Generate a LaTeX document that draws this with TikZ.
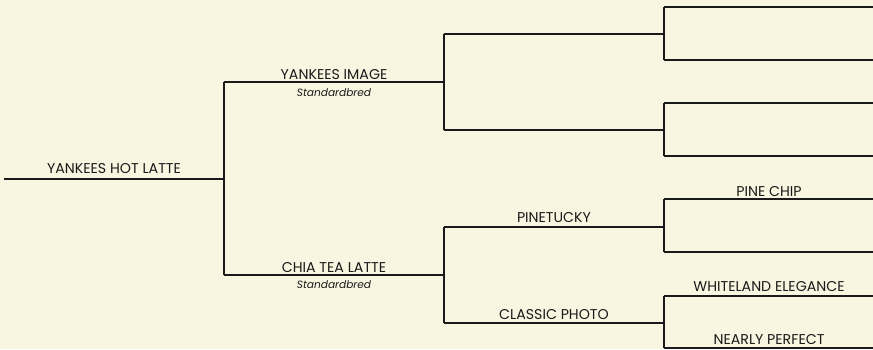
\documentclass[tikz,border=0pt]{standalone}
\usepackage{fontspec}
\setmainfont{Poppins}
\definecolor{bgcream}{HTML}{F8F5E0}
\definecolor{inkc}{HTML}{1A1A1A}
\tikzset{
  hline/.style={draw=inkc, line width=1.4pt},
  horsename/.style={anchor=base, inner sep=0pt, font=\fontsize{14.2}{14}\selectfont, text=inkc},
  breed/.style={anchor=base, inner sep=0pt, font=\fontsize{10.6}{10}\selectfont\itshape, text=inkc},
}
\begin{document}
\begin{tikzpicture}[x=1pt,y=-1pt]
\fill[bgcream] (0,0) rectangle (873,349);
\useasboundingbox (0,0) rectangle (873,349);
% generation 1
\coordinate (g1s) at (4,179); \coordinate (g1e) at (224,179);
% generation 2
\coordinate (g2as) at (224,82); \coordinate (g2ae) at (444,82);
\coordinate (g2bs) at (224,275); \coordinate (g2be) at (444,275);
% generation 3
\coordinate (g3as) at (444,34); \coordinate (g3ae) at (664,34);
\coordinate (g3bs) at (444,130); \coordinate (g3be) at (664,130);
\coordinate (g3cs) at (444,227); \coordinate (g3ce) at (664,227);
\coordinate (g3ds) at (444,323); \coordinate (g3de) at (664,323);
% generation 4
\coordinate (g4as) at (664,7); \coordinate (g4ae) at (874,7);
\coordinate (g4bs) at (664,60); \coordinate (g4be) at (874,60);
\coordinate (g4cs) at (664,103); \coordinate (g4ce) at (874,103);
\coordinate (g4ds) at (664,156); \coordinate (g4de) at (874,156);
\coordinate (g4es) at (664,199); \coordinate (g4ee) at (874,199);
\coordinate (g4fs) at (664,252); \coordinate (g4fe) at (874,252);
\coordinate (g4gs) at (664,296); \coordinate (g4ge) at (874,296);
\coordinate (g4hs) at (664,348); \coordinate (g4he) at (874,348);

\draw[hline] (g1s) -- (g1e);
\draw[hline] (g2as) -- (g2bs);
\draw[hline] (g2as) -- (g2ae);
\draw[hline] (g2bs) -- (g2be);
\draw[hline] (g3as) -- (g3bs);
\draw[hline] (g3cs) -- (g3ds);
\draw[hline] (g3as) -- (g3ae);
\draw[hline] (g3bs) -- (g3be);
\draw[hline] (g3cs) -- (g3ce);
\draw[hline] (g3ds) -- (g3de);
\draw[hline] (g4as) -- (g4bs);
\draw[hline] (g4cs) -- (g4ds);
\draw[hline] (g4es) -- (g4fs);
\draw[hline] (g4gs) -- (g4hs);
\draw[hline] (g4as) -- (g4ae);
\draw[hline] (g4bs) -- (g4be);
\draw[hline] (g4cs) -- (g4ce);
\draw[hline] (g4ds) -- (g4de);
\draw[hline] (g4es) -- (g4ee);
\draw[hline] (g4fs) -- (g4fe);
\draw[hline] (g4gs) -- (g4ge);
\draw[hline] (g4hs) -- (g4he);

\node[horsename] (n1) at (114,173) {YANKEES HOT LATTE};
\node[horsename] (n2) at (334,79) {YANKEES IMAGE};
\node[breed] (b2) at (334,96) {Standardbred};
\node[horsename] (n3) at (334,272) {CHIA TEA LATTE};
\node[breed] (b3) at (334,288) {Standardbred};
\node[horsename] (n6) at (554,222) {PINETUCKY};
\node[horsename] (n7) at (554,319) {CLASSIC PHOTO};
\node[horsename] (n12) at (769,196) {PINE CHIP};
\node[horsename] (n14) at (769,291) {WHITELAND ELEGANCE};
\node[horsename] (n15) at (769,344) {NEARLY PERFECT};
\end{tikzpicture}
\end{document}
